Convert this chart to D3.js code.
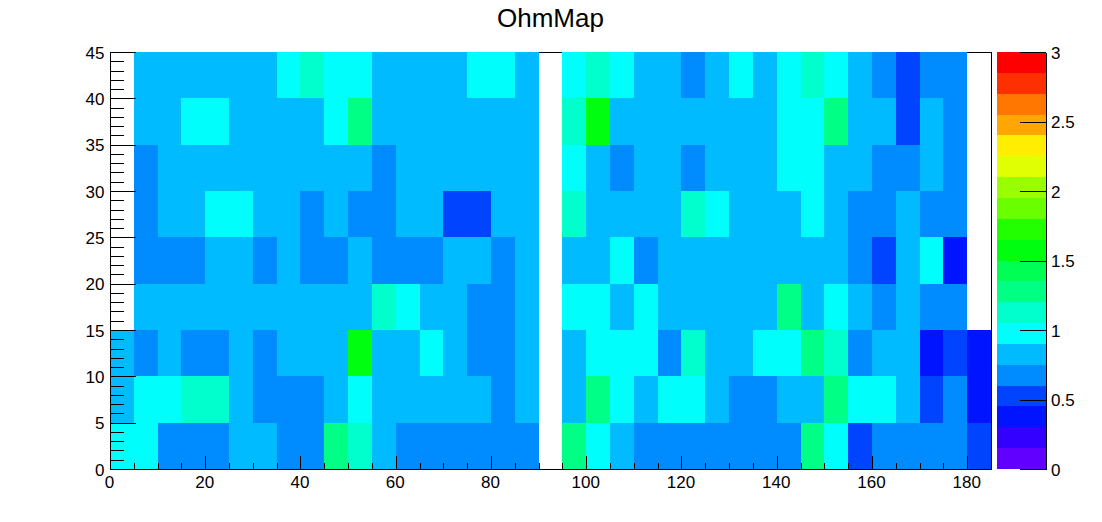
<!DOCTYPE html>
<html>
<head>
<meta charset="utf-8">
<script src="https://cdn.jsdelivr.net/npm/d3@7"></script>
<style>
html,body{margin:0;padding:0;background:#fff;}
svg{display:block;}
text{font-family:"Liberation Sans",Arimo,Helvetica,Arial,sans-serif;fill:#000;}
</style>
</head>
<body>
<div id="chart"></div>
<script>
const title = "OhmMap";
const xLabels = [0,20,40,60,80,100,120,140,160,180];
const yLabels = [0,5,10,15,20,25,30,35,40,45];
const zLabels = [0,0.5,1,1.5,2,2.5,3];
const binWidth = 5;
const binHeight = 5;

const palette = ["#6200ff","#3300ff","#0014ff","#0044ff","#008bff","#00bbff","#00fffc","#00ffcc","#00ff85","#00ff55",
                 "#00ff0e","#22ff00","#69ff00","#99ff00","#e0ff00","#ffee00","#ffa700","#ff7700","#ff3000","#ff0000"];

// Values per y bin, bottom row first; one entry per 5-wide x bin from 0 to 185.
const row0  = [.97,.97,.67,.67,.67,.82,.82,.67,.67,1.27,1.12,.82,.67,.67,.67,.67,.67,.67,null,1.27,.97,.82,.67,.67,.67,.67,.67,.67,.67,1.27,.97,.52,.67,.67,.67,.67,.52];
const row5  = [.82,.97,.97,1.12,1.12,.82,.67,.67,.67,.82,.97,.82,.82,.82,.82,.82,.67,.82,null,.82,1.27,.97,.82,.97,.97,.82,.67,.67,.82,.82,1.27,.97,.97,.82,.52,.67,.37];
const row10 = [.82,.67,.82,.67,.67,.82,.67,.82,.82,.82,1.57,.82,.82,.97,.82,.67,.67,.82,null,.82,.97,.97,.97,.67,1.12,.82,.82,.97,.97,1.27,1.12,.67,.82,.82,.37,.52,.37];
const row15 = [null,.82,.82,.82,.82,.82,.82,.82,.82,.82,.82,1.12,.97,.82,.82,.67,.67,.82,null,.97,.97,.82,.97,.82,.82,.82,.82,.82,1.27,.82,.97,.82,.67,.82,.67,.67,null];
const row20 = [null,.67,.67,.67,.82,.82,.67,.82,.67,.67,.82,.67,.67,.67,.82,.82,.67,.82,null,.82,.82,.97,.67,.82,.82,.82,.82,.82,.82,.82,.82,.67,.52,.82,.97,.37,null];
const row25 = [null,.67,.82,.82,.97,.97,.82,.82,.67,.82,.67,.67,.82,.82,.52,.52,.82,.82,null,1.12,.82,.82,.82,.82,1.12,.97,.82,.82,.82,.97,.82,.67,.67,.82,.67,.67,null];
const row30 = [null,.67,.82,.82,.82,.82,.82,.82,.82,.82,.82,.67,.82,.82,.82,.82,.82,.82,null,.97,.82,.67,.82,.82,.67,.82,.82,.82,.97,.97,.82,.82,.67,.67,.82,.67,null];
const row35 = [null,.82,.82,.97,.97,.82,.82,.82,.82,.97,1.27,.82,.82,.82,.82,.82,.82,.82,null,1.12,1.57,.82,.82,.82,.82,.82,.82,.82,.97,.97,1.27,.82,.82,.52,.82,.67,null];
const row40 = [null,.82,.82,.82,.82,.82,.82,.97,1.12,.97,.97,.82,.82,.82,.82,.97,.97,.82,null,.97,1.12,.97,.82,.82,.67,.82,.97,.82,.97,1.12,.97,.82,.67,.52,.67,.67,null];
const rows = [row0,row5,row10,row15,row20,row25,row30,row35,row40];

const W = 1102, H = 522;
const svg = d3.select("#chart").append("svg").attr("width",W).attr("height",H);

const x = d3.scaleLinear().domain([0,185]).range([110,991]);
const y = d3.scaleLinear().domain([0,45]).range([469,52]);
const z = d3.scaleLinear().domain([0,3]).range([469,52]);
const color = d3.scaleQuantize().domain([0,3]).range(palette);

// frame (under the cells)
svg.append("rect").attr("x",110.5).attr("y",52.5).attr("width",881).attr("height",417)
  .attr("fill","#fff").attr("stroke","#000").attr("stroke-width",1).attr("shape-rendering","crispEdges");

// cells
const cells = [];
rows.forEach((r,j)=>r.forEach((v,i)=>{ if(v!==null) cells.push({i,j,v}); }));
svg.append("g").attr("shape-rendering","crispEdges").selectAll("rect").data(cells).join("rect")
  .attr("x",d=>Math.round(x(d.i*binWidth)))
  .attr("width",d=>Math.round(x((d.i+1)*binWidth))-Math.round(x(d.i*binWidth)))
  .attr("y",d=>Math.round(y((d.j+1)*binHeight)))
  .attr("height",d=>Math.round(y(d.j*binHeight))-Math.round(y((d.j+1)*binHeight)))
  .attr("fill",d=>color(d.v));

// right edge over cells
svg.append("line").attr("x1",991.5).attr("x2",991.5).attr("y1",52).attr("y2",470)
  .attr("stroke","#000").attr("shape-rendering","crispEdges");

const fontSize = 17;
function style(g){
  g.selectAll("path,line").attr("stroke","#000").attr("shape-rendering","crispEdges");
  g.selectAll("text").attr("font-size",fontSize).attr("font-family",'"Liberation Sans",sans-serif').attr("fill","#000");
}

// x axis
svg.append("g").attr("transform","translate(0,469)")
  .call(d3.axisBottom(x).tickValues(d3.range(0,186,5).filter(v=>v%20!==0)).tickSize(-6.5).tickSizeOuter(0).tickFormat(""))
  .call(style);
svg.append("g").attr("transform","translate(0,469)")
  .call(d3.axisBottom(x).tickValues(xLabels).tickSizeInner(-13).tickSizeOuter(0).tickPadding(8).tickFormat(d3.format("d")))
  .call(style)
  .call(g=>g.selectAll("text").attr("dy",null).attr("x",-1).attr("y",19).attr("dominant-baseline","auto"));

// y axis
svg.append("g").attr("transform","translate(110,0)")
  .call(d3.axisLeft(y).tickValues(d3.range(0,46,1).filter(v=>v%5!==0)).tickSize(-13.5).tickSizeOuter(0).tickFormat(""))
  .call(style);
svg.append("g").attr("transform","translate(110,0)")
  .call(d3.axisLeft(y).tickValues(yLabels).tickSizeInner(-26).tickSizeOuter(0).tickPadding(6).tickFormat(d3.format("d")))
  .call(style)
  .call(g=>g.selectAll("text").attr("x",-5.5).attr("dy",null).attr("dominant-baseline","auto")
    .attr("y",6.2));

// colour bar
const bandH = 3/palette.length;
svg.append("g").attr("shape-rendering","crispEdges").selectAll("rect").data(palette).join("rect")
  .attr("x",997).attr("width",49)
  .attr("y",(c,i)=>Math.round(z((i+1)*bandH)))
  .attr("height",(c,i)=>Math.round(z(i*bandH))-Math.round(z((i+1)*bandH)))
  .attr("fill",c=>c);
svg.append("g").attr("transform","translate(1046,0)")
  .call(d3.axisRight(z).tickValues(zLabels).tickSizeInner(-26).tickSizeOuter(0).tickPadding(6).tickFormat(d3.format("~g")))
  .call(style)
  .call(g=>g.selectAll("text").attr("x",5).attr("dy",null).attr("dominant-baseline","auto").attr("y",6));

// title
svg.append("text").attr("x",550.5).attr("y",26.5).attr("text-anchor","middle").attr("font-size",26).text(title);
</script>
</body>
</html>
